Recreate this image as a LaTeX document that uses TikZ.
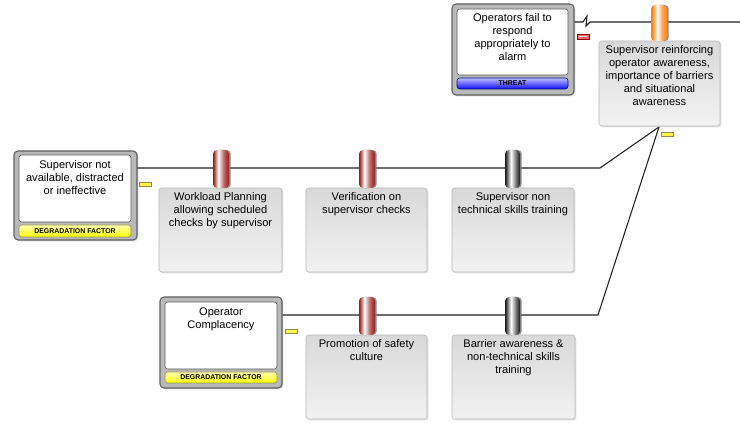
\documentclass[tikz,border=0pt]{standalone}
\usepackage{fontspec}
\setmainfont{Liberation Sans}
\usetikzlibrary{positioning,fit,shadows}

\definecolor{cylred}{HTML}{9A1C1C}
\definecolor{cylorange}{HTML}{FF8210}
\definecolor{cylblack}{HTML}{1C1C1C}
\pgfdeclarehorizontalshading{redcyl}{100bp}{color(0bp)=(cylred); color(26bp)=(cylred); color(42bp)=(white); color(58bp)=(cylred!65!white); color(74bp)=(cylred); color(100bp)=(cylred)}
\pgfdeclarehorizontalshading{orangecyl}{100bp}{color(0bp)=(cylorange); color(28bp)=(cylorange); color(45bp)=(white); color(60bp)=(cylorange!70!white); color(74bp)=(cylorange); color(100bp)=(cylorange)}
\pgfdeclarehorizontalshading{blackcyl}{100bp}{color(0bp)=(cylblack); color(26bp)=(cylblack); color(45bp)=(white); color(60bp)=(cylblack!55!white); color(74bp)=(cylblack); color(100bp)=(cylblack)}

\begin{document}
\begin{tikzpicture}[x=0.75pt, y=-0.75pt]
        \tikzset{
            outerbox/.style={draw=gray!75!black, fill=gray!55, rounded corners=3pt, line width=0.8pt, inner sep=0pt,
                drop shadow={shadow xshift=1pt, shadow yshift=-1pt, opacity=0.3}},
            innerbox/.style={draw=gray!70!black, fill=white, rounded corners=2pt, inner sep=0pt},
            dfbar/.style={draw=yellow!55!black, top color=yellow!30, bottom color=yellow, rounded corners=2pt, inner sep=0pt},
            threatbar/.style={draw=blue!45!black, top color=blue!25, bottom color=blue!95, rounded corners=2pt, inner sep=0pt},
            barbox/.style={draw=gray!55, top color=gray!30, bottom color=gray!10, rounded corners=2pt, inner sep=0pt,
                drop shadow={shadow xshift=1pt, shadow yshift=-1pt, opacity=0.25}},
            txt/.style={align=center, font=\fontsize{8.3}{9.75}\selectfont, inner sep=0pt},
            bartxt/.style={font=\fontsize{5.2}{6}\selectfont\bfseries, inner sep=0pt},
            cyl/.style={rounded corners=3pt, inner sep=0pt,
                drop shadow={shadow xshift=1.3pt, shadow yshift=0pt, opacity=0.9}},
            redcyl/.style={cyl, shading=redcyl},
            orangecyl/.style={cyl, shading=orangecyl},
            blackcyl/.style={cyl, shading=blackcyl},
            redtag/.style={draw=red!55!black, fill=red!60, inner sep=0pt},
            yellowtag/.style={draw=yellow!50!black, fill=yellow!70, inner sep=0pt},
            link/.style={draw=gray!25!black, line width=0.8pt}
        }
        \useasboundingbox (0,0) rectangle (740,423);

        % Threat
        \node[outerbox, fit={(452,4) (574,95)}] (threat) {};
        \node[innerbox, fit={(457,9) (568,75)}] (threatin) {};
        \node[threatbar, fit={(457,78) (568,89)}] (threatbar) {};
        \node[bartxt] at (threatbar) {THREAT};
        \node[txt, below=3.5pt of threatin.north] {Operators fail to\\respond\\appropriately to\\alarm};
        \node[redtag, fit={(577,34) (589,39)}] (threattag) {};
        \draw[white, line width=0.8pt] (threattag.west) ++(2,0) -- ([xshift=-1.5pt]threattag.east);

        % Degradation factor 1
        \node[outerbox, fit={(14,151) (137,240)}] (df1) {};
        \node[innerbox, fit={(19,155) (131,222)}] (df1in) {};
        \node[dfbar, fit={(19,225) (131,237)}] (df1bar) {};
        \node[bartxt] at (df1bar) {DEGRADATION FACTOR};
        \node[txt, below=4pt of df1in.north] {Supervisor not\\available, distracted\\or ineffective};
        \node[yellowtag, fit={(139,182) (151,186)}] (df1tag) {};

        % Degradation factor 2
        \node[outerbox, fit={(160,297) (282,388)}] (df2) {};
        \node[innerbox, fit={(165,302) (277,369)}] (df2in) {};
        \node[dfbar, fit={(165,372) (277,383)}] (df2bar) {};
        \node[bartxt] at (df2bar) {DEGRADATION FACTOR};
        \node[txt, below=4pt of df2in.north] {Operator\\Complacency};
        \node[yellowtag, fit={(285,329) (297,333)}] (df2tag) {};

        % Pathways
        \coordinate (zig1) at (583,22);
        \coordinate (zig2) at (587,16);
        \coordinate (zig3) at (586,26);
        \coordinate (zig4) at (590,22);
        \coordinate (topend) at (740,22);
        \coordinate (j1) at (600,168);
        \coordinate (j2) at (598,315);
        \coordinate (hub) at (659,127);
        \draw[link] (threat.east |- topend) -- (zig1) -- (zig2) -- (zig3) -- (zig4) -- (topend);
        \draw[link] (df1.east |- j1) -- (j1) -- (hub);
        \draw[link] (df2.east |- j2) -- (j2) -- (hub);

        % Top barrier
        \node[barbox, fit={(599,41) (720,126)}] (b0) {};
        \node[txt, below=3pt of b0.north] {Supervisor reinforcing\\operator awareness,\\importance of barriers\\and situational\\awareness};
        \node[orangecyl, fit={(651,5) (667,41)}] (c0) {};
        \node[yellowtag, fit={(661,132) (673,136)}] (b0tag) {};

        % Barriers on pathway 1
        \node[barbox, fit={(159,188) (282,272)}] (b1) {};
        \node[txt, below=3.5pt of b1.north] {Workload Planning\\allowing scheduled\\checks by supervisor};
        \node[redcyl, fit={(213,150) (229,188)}] (c1) {};

        \node[barbox, fit={(306,188) (427,272)}] (b2) {};
        \node[txt, below=3.5pt of b2.north] {Verification on\\supervisor checks};
        \node[redcyl, fit={(359,150) (375,188)}] (c2) {};

        \node[barbox, fit={(452,188) (574,272)}] (b3) {};
        \node[txt, below=3.5pt of b3.north] {Supervisor non\\technical skills training};
        \node[blackcyl, fit={(505,150) (520,188)}] (c3) {};

        % Barriers on pathway 2
        \node[barbox, fit={(306,335) (427,419)}] (b4) {};
        \node[txt, below=3.5pt of b4.north] {Promotion of safety\\culture};
        \node[redcyl, fit={(359,297) (375,335)}] (c4) {};

        \node[barbox, fit={(452,335) (575,419)}] (b5) {};
        \node[txt, below=3.5pt of b5.north] {Barrier awareness \&\\non-technical skills\\training};
        \node[blackcyl, fit={(505,297) (520,335)}] (c5) {};
\end{tikzpicture}
\end{document}
